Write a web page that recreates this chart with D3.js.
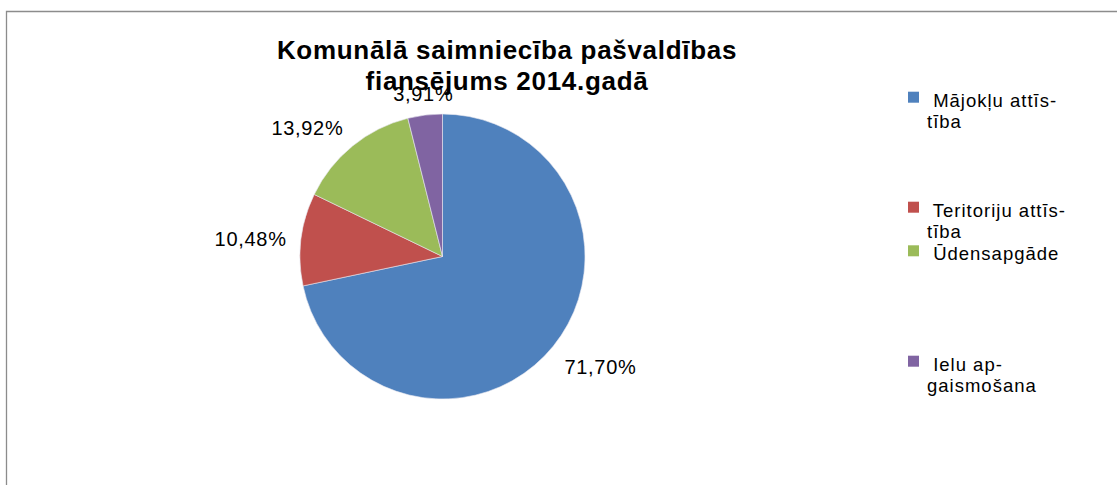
<!DOCTYPE html>
<html>
<head>
<meta charset="utf-8">
<script src="https://cdn.jsdelivr.net/npm/d3@7"></script>
<style>
  body { margin: 0; background: #fff; }
  svg { display: block; font-family: "Liberation Sans", Arial, sans-serif; }
  .title { font-size: 26px; font-weight: bold; fill: #000; letter-spacing: 0.7px; }
  .label { font-size: 20px; fill: #000; letter-spacing: 0.7px; }
  .legend { font-size: 18.5px; fill: #000; letter-spacing: 1px; white-space: pre; }
</style>
</head>
<body>
<div id="chart"></div>
<script>
// data
var categories = ["Mājokļu attīstība", "Teritoriju attīstība", "Ūdensapgāde", "Ielu apgaismošana"];
var shares = [71.70, 10.48, 13.92, 3.91];
var shareLabels = ["71,70%", "10,48%", "13,92%", "3,91%"];
var legendLines = [[" Mājokļu attīs-", "tība"], [" Teritoriju attīs-", "tība"], [" Ūdensapgāde"], [" Ielu ap-", "gaismošana"]];
var titleLines = ["Komunālā saimniecība pašvaldības", "fiansējums 2014.gadā"];

var w = 1117, h = 485;
var cx = 442.5, cy = 256.5, r = 142.5;

var svg = d3.select("#chart").append("svg")
    .attr("width", w)
    .attr("height", h);

// frame of the chart area
svg.append("path")
    .attr("d", "M6.5," + h + "V11.5H" + w)
    .attr("fill", "none")
    .attr("stroke", "#8c8c8c")
    .attr("stroke-width", 1.3);

var color = d3.scaleOrdinal()
    .domain(categories)
    .range(["#4f81bd", "#c0504d", "#9bbb59", "#8064a2"]);

var pie = d3.pie().sort(null).value(function (d) { return d; });
var arcs = pie(shares);

var arc = d3.arc().innerRadius(0).outerRadius(r);

var g = svg.append("g").attr("transform", "translate(" + cx + "," + cy + ")");

g.selectAll("path.slice")
    .data(arcs)
    .enter()
    .append("path")
    .attr("class", "slice")
    .attr("d", arc)
    .attr("fill", function (d, i) { return color(categories[i]); })
    .attr("stroke", "#e8e8f0")
    .attr("stroke-width", 0.6);

// data labels: anchor point on a ring outside the pie, box aligned by 45deg sector
var labelArc = d3.arc().innerRadius(157).outerRadius(157);
g.selectAll("text.label")
    .data(arcs)
    .enter()
    .append("text")
    .attr("class", "label")
    .text(function (d, i) { return shareLabels[i]; })
    .each(function (d) {
        var a = (d.startAngle + d.endAngle) / 2;
        var sector = Math.round(a / (Math.PI / 4)) % 8;
        var p = labelArc.centroid(d);
        var anchor = (sector === 0 || sector === 4) ? "middle" : (sector < 4 ? "start" : "end");
        var dy = (sector === 2 || sector === 6) ? 8 : ((sector >= 3 && sector <= 5) ? 18.5 : 0);
        d3.select(this)
            .attr("x", p[0])
            .attr("y", p[1] + dy)
            .attr("text-anchor", anchor);
    });

// title (drawn after the labels, it sits over the small one)
svg.append("text")
    .attr("class", "title")
    .attr("text-anchor", "middle")
    .selectAll("tspan")
    .data(titleLines)
    .enter()
    .append("tspan")
    .attr("x", 507)
    .attr("y", function (d, i) { return 59 + i * 31; })
    .text(function (d) { return d; });

// legend
var legendTop = [106.7, 216.7, 260.3, 370.7]; // baselines of the first line of each entry
var legend = svg.selectAll("g.legend-item")
    .data(categories)
    .enter()
    .append("g")
    .attr("class", "legend-item")
    .attr("transform", function (d, i) { return "translate(0," + legendTop[i] + ")"; });

legend.append("rect")
    .attr("x", 908)
    .attr("y", -15)
    .attr("width", 11)
    .attr("height", 11)
    .attr("fill", function (d) { return color(d); });

legend.append("text")
    .attr("class", "legend")
    .selectAll("tspan")
    .data(function (d, i) { return legendLines[i]; })
    .enter()
    .append("tspan")
    .attr("x", 927)
    .attr("y", function (d, j) { return j * 21; })
    .text(function (d) { return d; });
</script>
</body>
</html>
